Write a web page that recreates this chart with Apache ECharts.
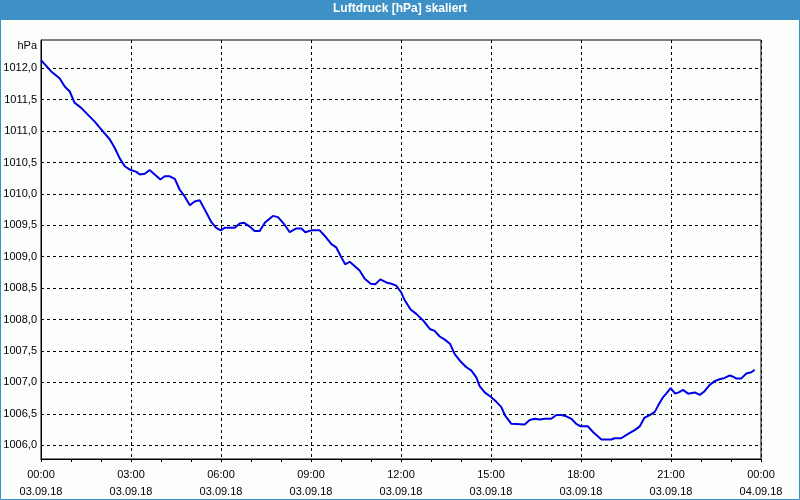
<!DOCTYPE html>
<html>
<head>
<meta charset="utf-8">
<script src="https://cdn.jsdelivr.net/npm/echarts@6/dist/echarts.min.js"></script>
<style>html,body{margin:0;padding:0;background:#fcfefc}#c{width:800px;height:500px}</style>
</head>
<body>
<div id="c"></div>
<script>
// Time in hours since 03.09.18 00:00
const hours = [0.0,0.34,0.62,0.79,0.96,1.12,1.34,1.79,2.07,2.29,2.46,2.62,2.79,2.99,3.18,3.29,3.46,3.62,3.79,3.98,4.12,4.29,4.46,4.62,4.79,4.96,5.12,5.29,5.46,5.68,5.84,5.99,
6.12,6.46,6.62,6.77,6.96,7.12,7.29,7.46,7.73,7.90,8.12,8.29,8.51,8.68,8.81,9.01,9.29,9.46,9.68,9.84,10.01,10.14,10.29,10.46,10.62,10.79,10.99,11.14,11.31,11.51,11.68,11.84,12.01,
12.12,12.32,12.51,12.73,12.96,13.12,13.29,13.46,13.64,13.79,14.01,14.18,14.34,14.51,14.62,14.79,14.99,15.18,15.34,15.46,15.68,16.12,16.29,16.46,16.62,16.79,17.01,17.18,17.34,17.51,17.68,17.84,17.99,
18.23,18.40,18.68,19.01,19.12,19.34,19.57,19.79,19.96,20.12,20.29,20.46,20.57,20.73,20.84,20.99,21.14,21.26,21.40,21.57,21.79,21.96,22.10,22.29,22.46,22.62,22.79,22.96,23.07,23.18,23.34,23.51,23.68,23.79];
// Air pressure [hPa]
const pressure = [1012.13,1011.95,1011.84,1011.71,1011.63,1011.45,1011.37,1011.15,1010.99,1010.87,1010.73,1010.57,1010.44,1010.38,1010.35,1010.31,1010.32,1010.38,1010.31,1010.23,1010.28,1010.28,1010.24,1010.07,1009.96,1009.82,1009.88,1009.90,1009.75,1009.55,1009.46,1009.42,
1009.46,1009.46,1009.53,1009.54,1009.48,1009.41,1009.41,1009.54,1009.65,1009.63,1009.51,1009.39,1009.45,1009.45,1009.39,1009.42,1009.42,1009.33,1009.20,1009.15,1008.99,1008.88,1008.92,1008.85,1008.78,1008.65,1008.57,1008.56,1008.64,1008.59,1008.57,1008.54,1008.43,
1008.31,1008.16,1008.09,1007.99,1007.85,1007.82,1007.73,1007.68,1007.61,1007.45,1007.32,1007.24,1007.19,1007.08,1006.94,1006.84,1006.77,1006.69,1006.61,1006.48,1006.34,1006.33,1006.40,1006.42,1006.41,1006.42,1006.42,1006.48,1006.48,1006.46,1006.42,1006.34,1006.30,
1006.30,1006.21,1006.09,1006.09,1006.11,1006.11,1006.18,1006.24,1006.30,1006.44,1006.48,1006.53,1006.63,1006.76,1006.82,1006.91,1006.82,1006.84,1006.88,1006.82,1006.84,1006.80,1006.85,1006.96,1007.02,1007.05,1007.07,1007.11,1007.09,1007.06,1007.06,1007.14,1007.16,1007.20];
// Y tick labels
const yTicks = [1006.0,1006.5,1007.0,1007.5,1008.0,1008.5,1009.0,1009.5,1010.0,1010.5,1011.0,1011.5,1012.0];
// X tick labels (time / date)
const xTimes = ['00:00','03:00','06:00','09:00','12:00','15:00','18:00','21:00','00:00'];
const xDates = ['03.09.18','03.09.18','03.09.18','03.09.18','03.09.18','03.09.18','03.09.18','03.09.18','04.09.18'];
const title = 'Luftdruck [hPa] skaliert';
const unit = 'hPa';

const font = '"Liberation Sans", Arial, sans-serif';
const chart = echarts.init(document.getElementById('c'), null, {renderer: 'canvas'});
const data = hours.map((h, i) => [h, pressure[i]]);
chart.setOption({
  backgroundColor: '#fcfefc',
  animation: false,
  title: {
    text: title, left: 'center', top: 3, padding: 0,
    textStyle: {color: '#ffffff', fontSize: 12, fontWeight: 'bold', fontFamily: font}
  },
  graphic: [
    {type: 'rect', z: -1, shape: {x: 0, y: 0, width: 800, height: 20}, style: {fill: '#3d91c7'}},
    {type: 'rect', z: -1, shape: {x: 0.5, y: 0.5, width: 799, height: 499}, style: {fill: null, stroke: '#3d91c7', lineWidth: 1}},
    {type: 'text', x: 37, y: 46, style: {text: unit, align: 'right', verticalAlign: 'middle', fill: '#000', font: '11px ' + font}}
  ],
  grid: {left: 41, right: 39, top: 40, bottom: 39, show: true, borderColor: '#000', borderWidth: 1, backgroundColor: 'transparent'},
  xAxis: {
    type: 'value', min: 0, max: 24, interval: 3,
    axisLine: {show: true, lineStyle: {color: '#000', width: 1}},
    axisTick: {show: true, length: 3, lineStyle: {color: '#000'}},
    minorTick: {show: true, splitNumber: 3, length: 3, lineStyle: {color: '#000'}},
    splitLine: {show: true, lineStyle: {color: '#000', type: [3, 3], width: 1}},
    axisLabel: {
      margin: 7, color: '#000', fontSize: 11, fontFamily: font, lineHeight: 17,
      formatter: v => { const i = Math.round(v / 3); return xTimes[i] + '\n' + xDates[i]; }
    }
  },
  yAxis: {
    type: 'value', min: 1005.78, max: 1012.45,
    axisLine: {show: true, lineStyle: {color: '#000', width: 1}},
    axisTick: {show: false, customValues: yTicks},
    splitLine: {show: true, lineStyle: {color: '#000', type: [3, 3], width: 1}},
    axisLabel: {
      customValues: yTicks, margin: 4, color: '#000', fontSize: 11, fontFamily: font,
      formatter: v => v.toFixed(1).replace('.', ',')
    }
  },
  series: [{
    type: 'line', data: data, showSymbol: false, symbol: 'none',
    lineStyle: {color: '#0000e6', width: 2}
  }]
});
</script>
</body>
</html>
